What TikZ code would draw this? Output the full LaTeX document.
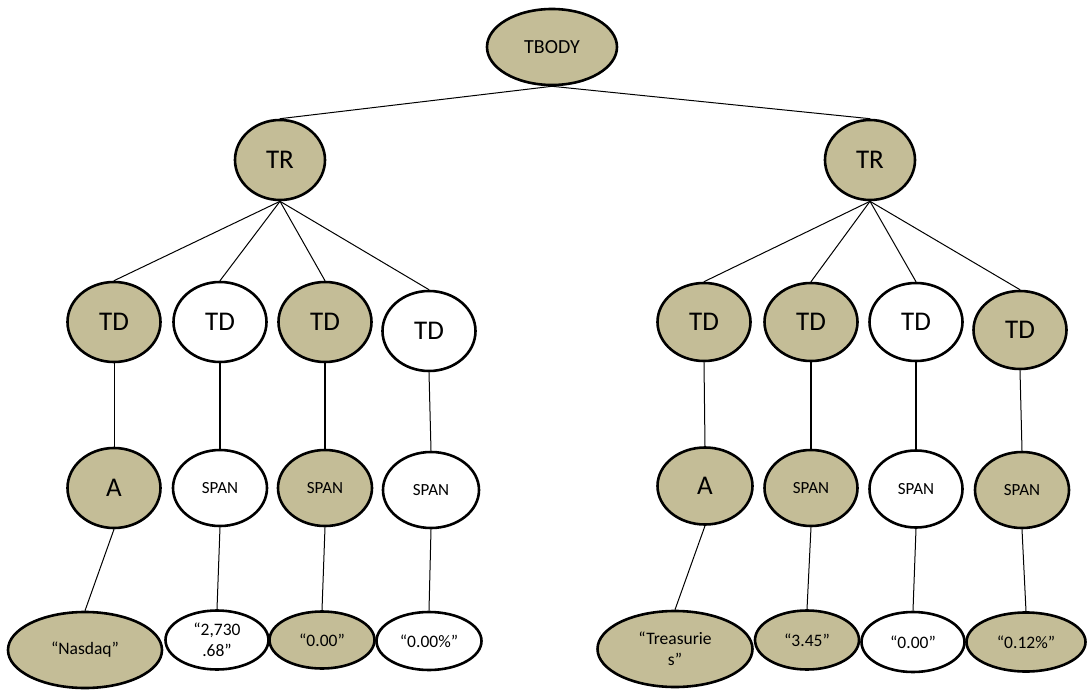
\documentclass[tikz,border=0pt]{standalone}
\usepackage{fontspec}
\setmainfont{Carlito}
\usetikzlibrary{shapes.geometric}
\definecolor{tan}{HTML}{C4BD97}
\tikzset{
  el/.style={ellipse, draw=black, line width=2.6pt, inner sep=0pt, align=center, text=black},
  fl/.style={el, fill=tan},
  wh/.style={el, fill=white},
  big/.style={font=\fontsize{27}{30}\selectfont},
  top/.style={font=\fontsize{20}{22}\selectfont},
  mid/.style={font=\fontsize{17}{19}\selectfont},
  lf/.style={font=\fontsize{17.5}{21}\selectfont},
  ed/.style={line width=1pt},
  edt/.style={line width=2pt}
}
\begin{document}
\begin{tikzpicture}[x=1pt,y=-1pt]
\useasboundingbox (0,0) rectangle (1090,690);
% nodes
\node[fl,top,minimum width=130pt,minimum height=76pt] (tbody) at (552,47) {TBODY};
\node[fl,big,minimum width=90pt,minimum height=80pt] (trL) at (280,160) {TR};
\node[fl,big,minimum width=90pt,minimum height=80pt] (trR) at (870,160) {TR};
% TD level
\node[fl,big,minimum width=93pt,minimum height=80pt] (tdL1) at (114,322) {TD};
\node[wh,big,minimum width=93pt,minimum height=80pt] (tdL2) at (220,322) {TD};
\node[fl,big,minimum width=93pt,minimum height=80pt] (tdL3) at (325,322) {TD};
\node[wh,big,minimum width=93pt,minimum height=80pt] (tdL4) at (429,331) {TD};
\node[fl,big,minimum width=93pt,minimum height=78pt] (tdR1) at (704,322) {TD};
\node[fl,big,minimum width=93pt,minimum height=78pt] (tdR2) at (811,322) {TD};
\node[wh,big,minimum width=93pt,minimum height=78pt] (tdR3) at (916,322) {TD};
\node[fl,big,minimum width=93pt,minimum height=78pt] (tdR4) at (1020,330) {TD};
% A / SPAN level
\node[fl,big,minimum width=93pt,minimum height=80pt] (aL) at (114,488) {A};
\node[wh,mid,minimum width=94pt,minimum height=76pt] (spL2) at (220,488) {SPAN};
\node[fl,mid,minimum width=94pt,minimum height=76pt] (spL3) at (325,488) {SPAN};
\node[wh,mid,minimum width=96pt,minimum height=76pt] (spL4) at (431,490) {SPAN};
\node[fl,big,minimum width=95pt,minimum height=77pt] (aR) at (705,486) {A};
\node[fl,mid,minimum width=93pt,minimum height=76pt] (spR2) at (811,488) {SPAN};
\node[wh,mid,minimum width=93pt,minimum height=77pt] (spR3) at (916,489) {SPAN};
\node[fl,mid,minimum width=94pt,minimum height=76pt] (spR4) at (1022,490) {SPAN};
% leaves
\node[fl,lf,minimum width=154pt,minimum height=76pt] (lL1) at (85,650) {“Nasdaq”};
\node[wh,lf,minimum width=103pt,minimum height=59pt] (lL2) at (217,640) {“2,730\\.68”};
\node[fl,lf,minimum width=105pt,minimum height=57pt] (lL3) at (322,640) {“0.00”};
\node[wh,lf,minimum width=105pt,minimum height=58pt] (lL4) at (429,641) {“0.00\%”};
\node[fl,lf,minimum width=155pt,minimum height=76pt] (lR1) at (675,649) {“Treasurie\\s”};
\node[fl,lf,minimum width=104pt,minimum height=59pt] (lR2) at (807,640) {“3.45”};
\node[wh,lf,minimum width=103pt,minimum height=60pt] (lR3) at (913,642) {“0.00”};
\node[fl,lf,minimum width=119pt,minimum height=59pt] (lR4) at (1026,642) {“0.12\%”};
% edges
\draw[ed] (tbody.south) -- (trL.north);
\draw[ed] (tbody.south) -- (trR.north);
\foreach \n in {tdL1,tdL2,tdL3,tdL4} \draw[ed] (trL.south) -- (\n.north);
\foreach \n in {tdR1,tdR2,tdR3,tdR4} \draw[ed] (trR.south) -- (\n.north);
\draw[ed] (tdL1.south) -- (aL.north);
\draw[edt] (tdL2.south) -- (spL2.north);
\draw[edt] (tdL3.south) -- (spL3.north);
\draw[ed] (tdL4.south) -- (spL4.north);
\draw[ed] (tdR1.south) -- (aR.north);
\draw[edt] (tdR2.south) -- (spR2.north);
\draw[edt] (tdR3.south) -- (spR3.north);
\draw[ed] (tdR4.south) -- (spR4.north);
\draw[ed] (aL.south) -- (lL1.north);
\draw[ed] (spL2.south) -- (lL2.north);
\draw[ed] (spL3.south) -- (lL3.north);
\draw[ed] (spL4.south) -- (lL4.north);
\draw[ed] (aR.south) -- (lR1.north);
\draw[ed] (spR2.south) -- (lR2.north);
\draw[ed] (spR3.south) -- (lR3.north);
\draw[ed] (spR4.south) -- (lR4.north);
\end{tikzpicture}
\end{document}
